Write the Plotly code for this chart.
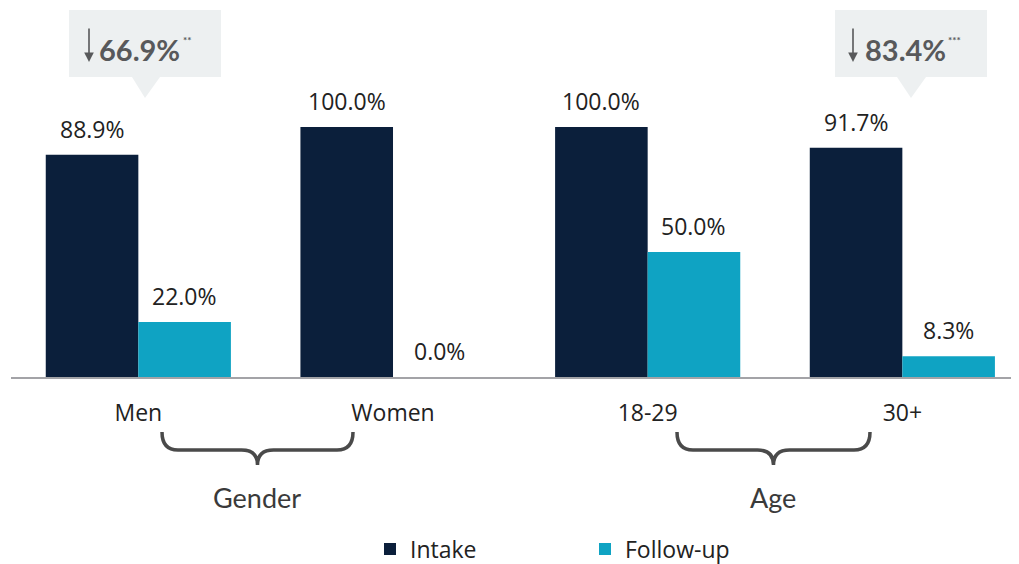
import plotly.graph_objects as go

# ---- data ----
categories = ["Men", "Women", "18-29", "30+"]
intake = [88.9, 100.0, 100.0, 91.7]
follow_up = [22.0, 0.0, 50.0, 8.3]
series_names = ["Intake", "Follow-up"]
groups = ["Gender", "Age"]
changes = ["66.9%", "83.4%"]
significance = ["**", "***"]

# ---- styling ----
PAGE_OFF = 8                      # default body margin of the html page
W, H = 1019 - 2 * PAGE_OFF, 564 - PAGE_OFF
AXIS_Y = 377                      # page pixel of the baseline
ML, MR, MT = 11 - PAGE_OFF, 0, 0
PH = AXIS_Y - PAGE_OFF - MT
MB = H - MT - PH
PW = W - ML - MR
PITCH = 254.67                    # px per category
PX_PER_UNIT = 2.5                 # px per percentage point
NAVY = "#0b1f3b"
TEAL = "#0fa3c3"
TXT = "#222222"
GREY = "#58595b"
BOXC = "#edf0f1"
FS = 23


def px(x):
    """page pixel x -> paper"""
    return (x - PAGE_OFF - ML) / PW


def py(y):
    """page pixel y -> paper"""
    return (MT + PH - (y - PAGE_OFF)) / PH


fig = go.Figure()
fig.add_trace(go.Bar(x=categories, y=intake, name=series_names[0],
                     marker=dict(color=NAVY, line=dict(width=0))))
fig.add_trace(go.Bar(x=categories, y=follow_up, name=series_names[1],
                     marker=dict(color=TEAL, line=dict(width=0))))

annotations = []
half_bar = 46.3
for vals, sh in ((intake, -half_bar), (follow_up, half_bar)):
    for c, v in zip(categories, vals):
        annotations.append(dict(x=c, y=v, xref="x", yref="y", text=f"{v:.1f}%",
                                showarrow=False, xshift=sh, yshift=26,
                                font=dict(family="Open Sans", size=FS, color=TXT)))

# group labels and braces
brace_specs = [(162, 353, groups[0]), (677, 870, groups[1])]
shapes = []
for x0, x1, lab in brace_specs:
    xc = (x0 + x1) / 2
    yt, ym, ytip = 432, 450, 465
    r = 16
    pts = (f"M {px(x0)},{py(yt)} Q {px(x0)},{py(ym)} {px(x0 + r)},{py(ym)} "
           f"L {px(xc - r)},{py(ym)} Q {px(xc)},{py(ym)} {px(xc)},{py(ytip)} "
           f"Q {px(xc)},{py(ym)} {px(xc + r)},{py(ym)} "
           f"L {px(x1 - r)},{py(ym)} Q {px(x1)},{py(ym)} {px(x1)},{py(yt)}")
    shapes.append(dict(type="path", xref="paper", yref="paper", path=pts,
                       line=dict(color="#4a4a4a", width=3.5)))
    annotations.append(dict(x=px(xc - 1), y=py(498), xref="paper", yref="paper",
                            text=lab, showarrow=False, xanchor="center", yanchor="middle",
                            font=dict(family="Lato", size=27, color="#3a3a3a")))

# callout boxes
callouts = [
    dict(box=(69, 10, 221, 77), tri=(132, 160, 145, 98), arrow_x=89, text_x=97, sig_x=181,
         label=changes[0], sig=significance[0]),
    dict(box=(835, 10, 987, 77), tri=(897, 926, 911, 98), arrow_x=853, text_x=863, sig_x=946,
         label=changes[1], sig=significance[1]),
]
for co in callouts:
    bx0, by0, bx1, by1 = co["box"]
    shapes.append(dict(type="rect", xref="paper", yref="paper",
                       x0=px(bx0), x1=px(bx1), y0=py(by1), y1=py(by0),
                       fillcolor=BOXC, line=dict(width=0), layer="below"))
    tx0, tx1, tcx, tcy = co["tri"]
    shapes.append(dict(type="path", xref="paper", yref="paper",
                       path=f"M {px(tx0)},{py(by1)} L {px(tx1)},{py(by1)} L {px(tcx)},{py(tcy)} Z",
                       fillcolor=BOXC, line=dict(width=0), layer="below"))
    annotations.append(dict(x=px(co["arrow_x"]), y=py(62), xref="paper", yref="paper",
                            ax=0, ay=-35, text="", showarrow=True, arrowhead=2,
                            arrowsize=1.2, arrowwidth=1.6, arrowcolor=GREY))
    annotations.append(dict(x=px(co["text_x"]), y=py(50), xref="paper", yref="paper",
                            text=f"<b>{co['label']}</b>", showarrow=False,
                            xanchor="left", yanchor="middle",
                            font=dict(family="Lato", size=29, color=GREY)))
    annotations.append(dict(x=px(co["sig_x"]), y=py(40), xref="paper", yref="paper",
                            text=f"<b>{co['sig']}</b>", showarrow=False,
                            xanchor="left", yanchor="middle",
                            font=dict(family="Lato", size=10, color=GREY)))

fig.update_layout(
    width=W, height=H, autosize=False,
    margin=dict(l=ML, r=MR, t=MT, b=MB, pad=0, autoexpand=False),
    paper_bgcolor="white", plot_bgcolor="white",
    barmode="group", bargap=0.273, bargroupgap=0,
    showlegend=True,
    legend=dict(orientation="h", x=px(370), y=py(549), xanchor="left", yanchor="middle",
                font=dict(family="Open Sans", size=FS, color=TXT),
                entrywidth=170, entrywidthmode="pixels", bgcolor="rgba(0,0,0,0)"),
    xaxis=dict(type="category", range=[-0.5, PW / PITCH - 0.5], showgrid=False, zeroline=False,
               showline=True, linecolor="#a3a3a7", linewidth=2, ticks="",
               tickfont=dict(family="Open Sans", size=FS, color=TXT),
               ticklabelstandoff=14, fixedrange=True),
    yaxis=dict(range=[0, PH / PX_PER_UNIT], visible=False, fixedrange=True),
    annotations=annotations,
    shapes=shapes,
)

fig.write_html("out.html")
